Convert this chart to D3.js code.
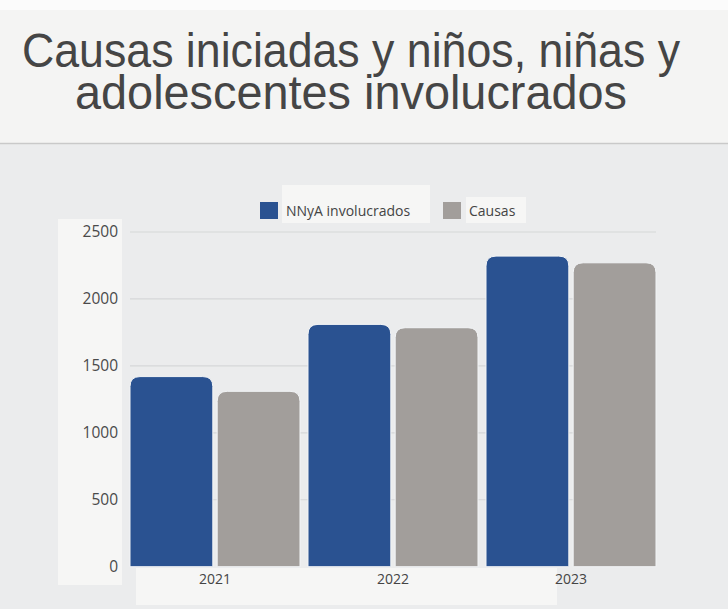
<!DOCTYPE html>
<html><head><meta charset="utf-8">
<script src="https://cdn.jsdelivr.net/npm/d3@7"></script>
<style>html,body{margin:0;padding:0;background:#ebeced;}</style>
</head><body>
<svg id="c" width="728" height="609"></svg>
<script>
const years = ["2021", "2022", "2023"];
const seriesNames = ["NNyA involucrados", "Causas"];
const nnya = [1420, 1810, 2320];
const causas = [1310, 1785, 2270];
const yTicks = [0, 500, 1000, 1500, 2000, 2500];
const colors = ["#2a5291", "#a29e9b"];
const titleLines = ["Causas iniciadas y niños, niñas y", "adolescentes involucrados"];

const svg = d3.select("#c");
// backgrounds
svg.append("rect").attr("x",0).attr("y",0).attr("width",728).attr("height",609).attr("fill","#ebeced");
svg.append("rect").attr("x",0).attr("y",0).attr("width",728).attr("height",143).attr("fill","#fbfbfb");
svg.append("rect").attr("x",0).attr("y",10).attr("width",728).attr("height",133).attr("fill","#f4f4f3");
svg.append("line").attr("x1",0).attr("x2",728).attr("y1",143.5).attr("y2",143.5).attr("stroke","#c9c9c9").attr("stroke-width",1.5);

// title
const tl = [{t:titleLines[0], x:22, y:67, w:658},{t:titleLines[1], x:75, y:109, w:552}];
svg.selectAll("text.title").data(tl).join("text").attr("class","title")
  .attr("x",d=>d.x).attr("y",d=>d.y).attr("textLength",d=>d.w).attr("lengthAdjust","spacingAndGlyphs")
  .attr("font-family","Liberation Sans, Arial, sans-serif").attr("font-size",48).attr("fill","#454545")
  .text(d=>d.t);

// panels
svg.append("rect").attr("x",58).attr("y",219).attr("width",64).attr("height",366).attr("fill","#f6f6f5");
svg.append("rect").attr("x",136).attr("y",568).attr("width",421).attr("height",37).attr("fill","#f6f6f5");
svg.append("rect").attr("x",282).attr("y",185).attr("width",148).attr("height",38).attr("fill","#f6f6f5");
svg.append("rect").attr("x",466).attr("y",197).attr("width",60).attr("height",26).attr("fill","#f6f6f5");

const y = d3.scaleLinear().domain([0,2500]).range([566.7,232]);
const x0 = d3.scaleBand().domain(years).range([130,656]).paddingInner(0.045).paddingOuter(0);
const x1 = d3.scaleBand().domain(seriesNames).range([0,x0.bandwidth()]).paddingInner(0.05);

// y axis
const yAxis = d3.axisLeft(y).tickValues(yTicks).tickFormat(d3.format("d")).tickSize(0).tickPadding(0);
const gy = svg.append("g").attr("transform","translate(118,0)").call(yAxis);
gy.select(".domain").remove();
gy.selectAll("text").attr("font-family","Open Sans, sans-serif").attr("font-size",15.5).attr("fill","#4a4a4a");
svg.append("g").selectAll("line").data(yTicks.filter(d=>d>0)).join("line")
  .attr("x1",130).attr("x2",656).attr("y1",d=>y(d)).attr("y2",d=>y(d))
  .attr("stroke","#d6d7d8").attr("stroke-width",1.2);

// bars with rounded top
function topRounded(x, yTop, w, h, r){
  r = Math.min(r, w/2, h);
  return `M${x},${yTop+h}V${yTop+r}Q${x},${yTop} ${x+r},${yTop}H${x+w-r}Q${x+w},${yTop} ${x+w},${yTop+r}V${yTop+h}Z`;
}
const data = years.map((yr,i)=>({year:yr, vals:[{k:seriesNames[0],v:nnya[i],c:colors[0]},{k:seriesNames[1],v:causas[i],c:colors[1]}]}));
const g = svg.append("g");
g.selectAll("g").data(data).join("g").attr("transform",d=>`translate(${x0(d.year)},0)`)
  .selectAll("path").data(d=>d.vals).join("path")
  .attr("d",d=>topRounded(x1(d.k), y(d.v), x1.bandwidth(), y(0)-y(d.v), 10))
  .attr("fill",d=>d.c).attr("stroke","#f2f4f6").attr("stroke-width",1);

// x axis labels
const xAxis = d3.axisBottom(x0).tickSize(0).tickPadding(0);
const gx = svg.append("g").attr("transform","translate(0,572)").call(xAxis);
gx.select(".domain").remove();
gx.selectAll("text").attr("font-family","Open Sans, sans-serif").attr("font-size",14).attr("fill","#444").attr("dy","0.85em");

// legend
const lg = [{k:seriesNames[0],c:colors[0],x:260,tx:286},{k:seriesNames[1],c:colors[1],x:443,tx:469}];
const L = svg.append("g");
L.selectAll("rect").data(lg).join("rect").attr("x",d=>d.x).attr("y",202).attr("width",18).attr("height",17).attr("fill",d=>d.c);
L.selectAll("text").data(lg).join("text").attr("x",d=>d.tx).attr("y",216)
  .attr("font-family","Open Sans, sans-serif").attr("font-size",14).attr("fill","#444").text(d=>d.k);
</script>
</body></html>
